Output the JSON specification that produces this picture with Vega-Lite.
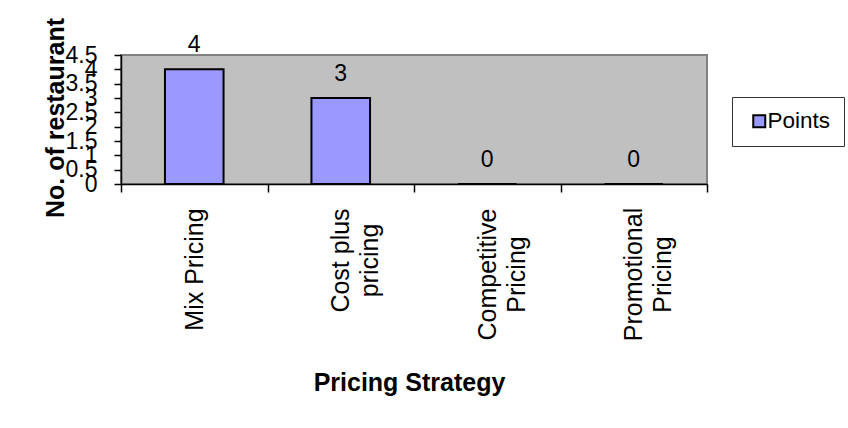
{
  "$schema": "https://vega.github.io/schema/vega-lite/v6.json",
  "autosize": {"type": "none"},
  "width": 586,
  "height": 129,
  "padding": {"left": 121, "top": 55, "right": 141, "bottom": 244},
  "background": "white",
  "config": {
    "font": "Liberation Sans",
    "view": {"fill": "#C0C0C0", "stroke": "#808080", "strokeWidth": 2}
  },
  "data": {
    "values": [
      {"strategy": "Mix Pricing", "points": 4, "series": "Points"},
      {"strategy": "Cost plus pricing", "points": 3, "series": "Points"},
      {"strategy": "Competitive Pricing", "points": 0, "series": "Points"},
      {"strategy": "Promotional Pricing", "points": 0, "series": "Points"}
    ]
  },
  "encoding": {
    "x": {
      "field": "strategy",
      "type": "nominal",
      "sort": null,
      "scale": {"paddingInner": 0, "paddingOuter": 0},
      "axis": {
        "title": "Pricing Strategy",
        "titleFontSize": 25,
        "titleFontWeight": "bold",
        "titleColor": "black",
        "titleX": 288,
        "titleY": 206,
        "titleAlign": "center",
        "titleBaseline": "alphabetic",
        "labelAngle": -90,
        "labelAlign": "center",
        "labelBaseline": "middle",
        "labelFontSize": 25,
        "labelColor": "black",
        "labelPadding": {
          "condition": [
            {"test": "datum.value == 'Mix Pricing'", "value": 77},
            {"test": "datum.value == 'Cost plus pricing'", "value": 68}
          ],
          "value": 82
        },
        "labelLineHeight": 29,
        "labelLimit": 300,
        "labelExpr": "datum.value == 'Cost plus pricing' ? ['Cost plus', 'pricing'] : datum.value == 'Competitive Pricing' ? ['Competitive', 'Pricing'] : datum.value == 'Promotional Pricing' ? ['Promotional', 'Pricing'] : datum.value",
        "tickBand": "extent",
        "tickSize": 8,
        "tickColor": "black",
        "tickWidth": 1.5,
        "domainColor": "black",
        "domainWidth": 1.5,
        "grid": false
      }
    },
    "y": {
      "field": "points",
      "type": "quantitative",
      "scale": {"domain": [0, 4.5], "nice": false},
      "axis": {
        "title": "No. of restaurant",
        "titleFontSize": 25,
        "titleFontWeight": "bold",
        "titleColor": "black",
        "titleX": -58,
        "titleY": 62.5,
        "titleAngle": -90,
        "titleAlign": "center",
        "titleBaseline": "alphabetic",
        "values": [0, 0.5, 1, 1.5, 2, 2.5, 3, 3.5, 4, 4.5],
        "format": "~g",
        "labelFontSize": 23,
        "labelColor": "black",
        "labelOverlap": false,
        "labelFlush": false,
        "labelBound": false,
        "labelPadding": 17,
        "tickSize": 7,
        "tickColor": "black",
        "tickWidth": 1.5,
        "domainColor": "black",
        "domainWidth": 1.5,
        "grid": false
      }
    }
  },
  "layer": [
    {
      "mark": {"type": "bar", "width": {"band": 0.4}, "stroke": "black", "strokeWidth": 2},
      "encoding": {
        "color": {
          "field": "series",
          "type": "nominal",
          "scale": {"range": ["#9999FF"]},
          "legend": {
            "title": null,
            "orient": "none",
            "legendX": 611,
            "legendY": 42,
            "fillColor": "white",
            "strokeColor": "#333333",
            "padding": 13,
            "symbolType": "square",
            "symbolSize": 144,
            "symbolStrokeColor": "black",
            "symbolStrokeWidth": 2,
            "symbolOffset": 3,
            "labelFontSize": 22.5,
            "labelColor": "black",
            "labelOffset": -3
          }
        }
      }
    },
    {
      "mark": {"type": "text", "dy": -17, "baseline": "alphabetic", "fontSize": 23, "color": "black"},
      "encoding": {"text": {"field": "points", "type": "quantitative"}}
    }
  ]
}
